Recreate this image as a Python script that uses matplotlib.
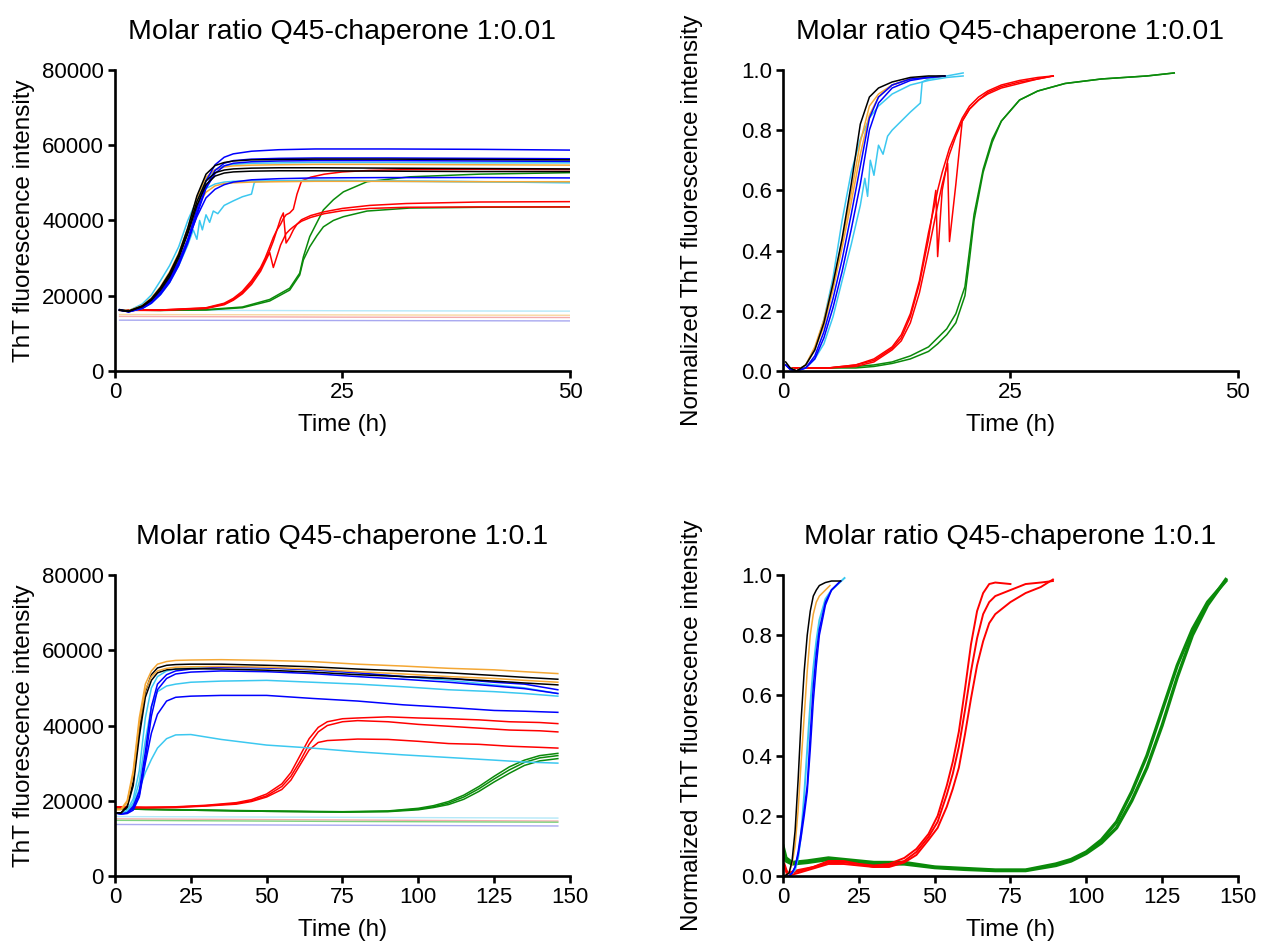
import matplotlib
matplotlib.use("Agg")
import matplotlib.pyplot as plt
from matplotlib.ticker import FormatStrFormatter

plt.rcParams['font.family'] = ['Liberation Sans', 'DejaVu Sans']

# ---------------- top-left: raw ThT, 1:0.01 ----------------
TL_T_FAST = [0.5, 1.5, 3, 4, 5, 6, 7, 8, 9, 10, 11, 12, 13, 15, 18, 22, 30, 40, 50]
TL_BLACK = [
    [16200, 15900, 17300, 19200, 22200, 26000, 31000, 38000, 46500, 52300, 54600, 55400, 55800, 56100, 56200, 56300, 56300, 56200, 56100],
    [16200, 15900, 17200, 19000, 21800, 25500, 30500, 37000, 45000, 50500, 52700, 53400, 53700, 53900, 54000, 54000, 53900, 53800, 53700],
    [16100, 15800, 17100, 18800, 21500, 25000, 30000, 36500, 44000, 49500, 51800, 52600, 52900, 53100, 53200, 53200, 53100, 53000, 53000],
]
TL_BLUE = [
    [16300, 15800, 16800, 18300, 20800, 24300, 29000, 35000, 43000, 50500, 54800, 56800, 57700, 58400, 58800, 59000, 59000, 58900, 58700],
    [16200, 15700, 16700, 18200, 20600, 24000, 28500, 34500, 42000, 49000, 53300, 55200, 55900, 56300, 56500, 56600, 56600, 56500, 56400],
    [16200, 15700, 16600, 18000, 20300, 23500, 28000, 34000, 41500, 48500, 52500, 54500, 55200, 55600, 55800, 55900, 55900, 55800, 55700],
    [16200, 15800, 16900, 18500, 21000, 24500, 29000, 34800, 41000, 46000, 48300, 49500, 50200, 50800, 51100, 51300, 51400, 51400, 51300],
]
TL_ORANGE = [
    [16300, 16000, 17400, 19400, 22400, 26300, 31300, 38000, 46000, 51500, 53500, 54200, 54500, 54700, 54800, 54900, 54900, 54800, 54700],
    [16200, 16000, 17300, 19200, 22000, 25800, 30500, 37000, 43500, 47500, 49200, 49800, 50000, 50200, 50300, 50400, 50400, 50300, 50300],
]
TL_CYAN = [
    [16300, 16000, 17300, 19200, 22000, 25800, 30800, 37500, 45500, 51000, 53500, 54500, 54900, 55200, 55300, 55400, 55400, 55300, 55300],
    [16300, 16000, 17800, 20200, 24000, 28000, 33000, 40000, 45500, 48500, 49700, 50200, 50400, 50500, 50500, 50500, 50400, 50300, 50200],
]
TL_T_CYAN_NOISY = [0.5, 1.5, 3, 4, 5, 6, 7, 8, 8.6, 9.0, 9.3, 9.6, 10.0, 10.4, 10.8, 11.3, 12, 13, 14, 15.0, 15.3, 15.5, 18, 22, 30, 40, 50]
TL_CYAN_NOISY = [16200, 15800, 16600, 18000, 20300, 23500, 28000, 33500, 37500, 35000, 40000, 37500, 41500, 39500, 42500, 41800,
                 44000, 45200, 46300, 47000, 50000, 50300, 50500, 50700, 50500, 50300, 50000]
TL_T_RED = [0.5, 5, 10, 12, 13, 14, 15, 16, 16.5, 17, 17.4, 17.8, 18.2, 18.5, 18.8, 19.2, 19.6, 20.0, 20.5, 21.5, 23, 25, 28, 32, 40, 50]
TL_RED = [
    [16200, 16200, 16800, 18000, 19300, 21200, 24000, 27500, 30000, 33000, 35500, 37500, 39000, 40500, 41500, 42000, 43000, 47000, 50500, 51500, 52300, 52900, 53300, 53500, 53600, 53500],
    [16200, 16200, 16700, 17800, 19000, 20800, 23500, 27000, 29500, 32000, 34500, 37500, 40500, 42000, 34000, 35500, 37500, 39000, 40200, 41300, 42300, 43200, 44000, 44500, 44900, 45000],
    [16100, 16100, 16600, 17600, 18800, 20500, 23000, 26500, 29000, 31500, 27500, 30500, 33500, 35000, 36500, 37500, 38300, 39000, 39800, 40800, 41800, 42600, 43200, 43500, 43600, 43600],
]
TL_T_GREEN = [0.5, 5, 10, 14, 17, 19.2, 20.3, 20.7, 21.4, 22.2, 22.9, 24, 25.1, 27.7, 32.4, 40, 50]
TL_GREEN = [
    [16200, 16100, 16300, 17000, 19000, 22000, 26000, 30300, 35700, 39500, 42800, 45500, 47600, 50300, 51600, 52300, 52700],
    [16200, 16100, 16200, 16800, 18600, 21500, 25500, 29500, 33000, 36000, 38300, 40000, 41000, 42500, 43300, 43500, 43600],
]
TL_T_BASE = [0.5, 25, 50]
TL_BASE = {
    'cyan': [16200, 16000, 15900],
    'orange': [15000, 14900, 14800],
    'pink': [14500, 14300, 14200],
    'lavender': [13500, 13400, 13300],
}

# ---------------- top-right: normalized, 1:0.01 ----------------
TR_T_FAST = [0.3, 0.8, 1.5, 2.5, 3.5, 4.5, 5.5, 6.5, 7.5, 8.5, 9.5, 10.5, 12, 14, 16, 17.8]
TR_BLACK = [[0.03, 0.01, 0.0, 0.02, 0.07, 0.16, 0.29, 0.44, 0.62, 0.82, 0.91, 0.94, 0.96, 0.975, 0.98, 0.98]]
TR_ORANGE = [
    [0.02, 0.01, 0.0, 0.02, 0.08, 0.17, 0.29, 0.43, 0.59, 0.76, 0.88, 0.92, 0.95, 0.97, 0.975, 0.98],
    [0.02, 0.01, 0.0, 0.02, 0.07, 0.15, 0.27, 0.41, 0.56, 0.72, 0.85, 0.91, 0.95, 0.97, 0.975, 0.98],
]
TR_BLUE = [
    [0.02, 0.005, 0.0, 0.01, 0.05, 0.13, 0.24, 0.37, 0.52, 0.68, 0.84, 0.91, 0.95, 0.97, 0.975, 0.98],
    [0.02, 0.005, 0.0, 0.01, 0.04, 0.11, 0.21, 0.33, 0.47, 0.62, 0.80, 0.89, 0.94, 0.965, 0.975, 0.98],
]
TR_T_CYAN = [0.3, 0.8, 1.5, 2.5, 3.5, 4.5, 5.5, 6.5, 7.5, 8.5, 9.5, 10.5, 12, 14, 16, 18, 19.8]
TR_CYAN = [[0.02, 0.01, 0.0, 0.02, 0.07, 0.17, 0.31, 0.50, 0.66, 0.77, 0.84, 0.88, 0.92, 0.95, 0.965, 0.975, 0.98]]
TR_T_CYAN_NOISY = [0.3, 0.8, 1.5, 2.5, 3.5, 4.5, 5.5, 6.5, 7.5, 8.5, 9.0, 9.3, 9.6, 10.0, 10.5, 11.0, 11.5, 12, 13, 14, 15.1, 15.3, 16, 17, 18, 19.8]
TR_CYAN_NOISY = [0.02, 0.01, 0.0, 0.01, 0.04, 0.09, 0.18, 0.30, 0.42, 0.55, 0.64, 0.58, 0.70, 0.65, 0.75, 0.72, 0.78, 0.80,
                 0.83, 0.86, 0.89, 0.96, 0.97, 0.975, 0.98, 0.99]
TR_T_RED = [1, 5, 8, 10, 11, 12, 13, 14, 15, 16, 16.8, 17.0, 17.5, 18.1, 18.3, 19.0, 19.7, 20.5, 21.5, 22.5, 24, 26, 28, 29.7]
TR_RED = [
    [0.01, 0.01, 0.02, 0.04, 0.06, 0.08, 0.12, 0.19, 0.30, 0.46, 0.57, 0.60, 0.66, 0.72, 0.74, 0.79, 0.84, 0.88, 0.91, 0.93, 0.95, 0.965, 0.975, 0.98],
    [0.01, 0.01, 0.02, 0.035, 0.055, 0.075, 0.11, 0.18, 0.29, 0.44, 0.60, 0.38, 0.60, 0.70, 0.72, 0.78, 0.83, 0.87, 0.90, 0.925, 0.945, 0.96, 0.97, 0.98],
    [0.01, 0.01, 0.015, 0.03, 0.05, 0.07, 0.10, 0.16, 0.26, 0.40, 0.52, 0.55, 0.62, 0.69, 0.43, 0.62, 0.83, 0.87, 0.90, 0.92, 0.94, 0.955, 0.97, 0.98],
]
TR_T_GREEN = [1, 5, 8, 10, 12, 14, 16, 17, 18, 19, 20, 20.5, 21, 22, 23, 24, 26, 28, 31, 35, 40, 43]
TR_GREEN = [
    [0.01, 0.01, 0.015, 0.02, 0.03, 0.05, 0.08, 0.11, 0.14, 0.19, 0.28, 0.40, 0.52, 0.67, 0.77, 0.83, 0.90, 0.93, 0.955, 0.97, 0.98, 0.99],
    [0.01, 0.01, 0.01, 0.015, 0.025, 0.04, 0.065, 0.09, 0.12, 0.16, 0.25, 0.37, 0.50, 0.66, 0.76, 0.83, 0.90, 0.93, 0.955, 0.97, 0.98, 0.99],
]

# ---------------- bottom-left: raw ThT, 1:0.1 ----------------
BL_T_FAST = [0.5, 2, 4, 6, 8, 10, 12, 14, 17, 20, 25, 35, 50, 65, 80, 95, 110, 125, 135, 146]
BL_ORANGE = [
    [17800, 17800, 20000, 28000, 42000, 51000, 54500, 56300, 57000, 57300, 57400, 57500, 57300, 57000, 56300, 55800, 55200, 54800, 54300, 53800],
    [17600, 17600, 19500, 27000, 40500, 49500, 53000, 54500, 55200, 55500, 55600, 55700, 55500, 55000, 54300, 53700, 53000, 52500, 52000, 51500],
]
BL_BLACK = [
    [16800, 16800, 18500, 25000, 39000, 49000, 53500, 55300, 56000, 56200, 56300, 56300, 56000, 55600, 55000, 54500, 54000, 53300, 52800, 52300],
    [16800, 16800, 18300, 24000, 37000, 47500, 52000, 54000, 54800, 55000, 55100, 55000, 54700, 54200, 53500, 53000, 52500, 51800, 51300, 50800],
]
BL_BLUE = [
    [16700, 16500, 16800, 18500, 22500, 33000, 45000, 51000, 53500, 54500, 55000, 55500, 55300, 54800, 54000, 53000, 52500, 51500, 51000, 49500],
    [16700, 16500, 16700, 18000, 21500, 31000, 42500, 49500, 52500, 53700, 54200, 54500, 54300, 53800, 53000, 52300, 51500, 50500, 49800, 48500],
    [16700, 16500, 16600, 17500, 21000, 30000, 38000, 43000, 46500, 47500, 47800, 48000, 48000, 47200, 46500, 45500, 44800, 44000, 43800, 43500],
]
BL_CYAN = [
    [16800, 16600, 17200, 19500, 25000, 36000, 45000, 49000, 50500, 51000, 51500, 51800, 52000, 51500, 51000, 50300, 49500, 49000, 48500, 47800],
    [16800, 16600, 17500, 20500, 28000, 42000, 50000, 53000, 54500, 55000, 55300, 55500, 55300, 54800, 54000, 53000, 52000, 50800, 50000, 48500],
    [16700, 16500, 17000, 19000, 23000, 27500, 31000, 34000, 36500, 37500, 37600, 36300, 34800, 34000, 33000, 32200, 31500, 30800, 30300, 30000],
]
BL_T_RED = [0.5, 10, 20, 30, 40, 45, 50, 55, 58, 61, 64, 67, 70, 75, 80, 90, 100, 110, 120, 130, 140, 146]
BL_RED = [
    [18300, 18200, 18400, 18800, 19500, 20300, 21800, 24500, 27500, 32000, 36500, 39500, 41000, 41800, 42000, 42300, 42000, 41800, 41500, 41000, 40800, 40500],
    [18400, 18300, 18300, 18700, 19300, 20000, 21300, 23800, 26500, 30500, 35000, 38300, 40000, 41000, 41300, 41000, 40300, 39800, 39300, 38800, 38600, 38300],
    [18200, 18100, 18200, 18600, 19100, 19800, 21000, 23000, 25500, 29500, 33500, 35500, 36000, 36200, 36400, 36300, 35800, 35200, 35000, 34500, 34200, 34000],
]
BL_T_GREEN = [0.5, 10, 25, 50, 75, 90, 100, 105, 110, 115, 120, 125, 130, 135, 140, 146]
BL_GREEN = [
    [18000, 17800, 17600, 17300, 17100, 17300, 18000, 18700, 19800, 21500, 23800, 26500, 29000, 30800, 32000, 32600],
    [17900, 17700, 17500, 17200, 17000, 17200, 17800, 18400, 19400, 21000, 23200, 25800, 28200, 30200, 31400, 32000],
    [17900, 17700, 17500, 17200, 17000, 17100, 17600, 18200, 19000, 20400, 22500, 25000, 27300, 29400, 30600, 31200],
]
BL_T_BASE = [0.5, 75, 146]
BL_BASE = {
    'cyan': [15800, 15600, 15400],
    'pink': [15200, 14900, 14600],
    'lightgreen': [14800, 14500, 14300],
    'lavender': [13700, 13500, 13300],
}

# ---------------- bottom-right: normalized, 1:0.1 ----------------
BR_T_FAST = [0.5, 2, 3, 4, 5, 6, 7, 8, 9, 10, 11, 12, 14, 16, 19]
BR_BLACK = [[0.0, 0.01, 0.05, 0.15, 0.32, 0.52, 0.68, 0.80, 0.88, 0.93, 0.95, 0.965, 0.975, 0.98, 0.98]]
BR_T_ORANGE = [0.5, 2, 3, 4, 5, 6, 7, 8, 9, 10, 11, 12, 14, 15.5]
BR_ORANGE = [[0.0, 0.01, 0.04, 0.10, 0.22, 0.38, 0.53, 0.68, 0.80, 0.87, 0.91, 0.93, 0.95, 0.965]]
BR_BLUE = [
    [0.0, 0.0, 0.01, 0.03, 0.08, 0.15, 0.22, 0.30, 0.47, 0.63, 0.74, 0.82, 0.91, 0.95, 0.98],
    [0.0, 0.0, 0.01, 0.03, 0.07, 0.13, 0.20, 0.28, 0.42, 0.58, 0.70, 0.80, 0.90, 0.95, 0.98],
]
BR_T_CYAN = [0.5, 2, 3, 4, 5, 6, 7, 8, 9, 10, 11, 12, 14, 16, 20.3]
BR_CYAN = [[0.0, 0.0, 0.01, 0.02, 0.06, 0.14, 0.27, 0.42, 0.57, 0.69, 0.78, 0.85, 0.92, 0.95, 0.99]]
BR_T_RED_SHORT = [0.5, 1.5, 5, 10, 15, 20, 25, 30, 35, 40, 44, 48, 51, 54, 56, 58, 60, 62, 64, 66, 68, 70, 75]
BR_RED_SHORT = [[0.04, 0.01, 0.02, 0.03, 0.05, 0.05, 0.04, 0.035, 0.04, 0.06, 0.09, 0.14, 0.20, 0.30, 0.38, 0.48, 0.62, 0.77, 0.88, 0.94, 0.97, 0.975, 0.97]]
BR_T_RED = [0.5, 1.5, 5, 10, 15, 20, 25, 30, 35, 40, 44, 48, 51, 54, 56, 58, 60, 62, 64, 66, 68, 70, 75, 80, 85, 89]
BR_RED = [
    [0.03, 0.01, 0.015, 0.03, 0.045, 0.045, 0.04, 0.03, 0.035, 0.05, 0.08, 0.13, 0.18, 0.27, 0.34, 0.43, 0.55, 0.68, 0.79, 0.87, 0.91, 0.93, 0.95, 0.97, 0.975, 0.98],
    [0.03, 0.0, 0.01, 0.025, 0.04, 0.04, 0.035, 0.03, 0.03, 0.045, 0.07, 0.12, 0.16, 0.23, 0.29, 0.36, 0.47, 0.59, 0.70, 0.78, 0.84, 0.87, 0.91, 0.94, 0.96, 0.985],
]
BR_T_GREEN = [0, 1, 3, 8, 15, 20, 30, 40, 50, 60, 70, 80, 90, 95, 100, 105, 110, 115, 120, 125, 130, 135, 140, 146]
BR_GREEN = [
    [0.10, 0.06, 0.045, 0.05, 0.06, 0.055, 0.045, 0.045, 0.03, 0.025, 0.02, 0.02, 0.04, 0.055, 0.08, 0.12, 0.18, 0.28, 0.40, 0.55, 0.70, 0.82, 0.91, 0.98],
    [0.08, 0.05, 0.04, 0.045, 0.055, 0.05, 0.04, 0.04, 0.028, 0.022, 0.018, 0.018, 0.035, 0.05, 0.075, 0.11, 0.16, 0.25, 0.36, 0.50, 0.66, 0.80, 0.90, 0.985],
]

COLORS = {
    'black': '#000000', 'blue': '#0000ff', 'orange': '#f4a734', 'cyan': '#3cc8f0',
    'red': '#ff0000', 'green': '#0a8a0a',
}
FAINT = {'cyan': '#b4e8f8', 'orange': '#f8d7a0', 'pink': '#f4aaaa',
         'lavender': '#a8a8f0', 'lightgreen': '#7fd27f'}

TITLE_TOP = 'Molar ratio Q45-chaperone 1:0.01'
TITLE_BOTTOM = 'Molar ratio Q45-chaperone 1:0.1'
YLABEL_RAW = 'ThT fluorescence intensity'
YLABEL_NORM = 'Normalized ThT fluorescence intensity'


def draw(ax, t, curves, color, lw=1.1):
    for y in curves:
        ax.plot(t[:len(y)], y, color=color, lw=lw, solid_joinstyle='round')


def style(ax, xmax, xticks, ymax, yticks, title, ylabel, fmt=None):
    ax.set_xlim(0, xmax)
    ax.set_ylim(0, ymax)
    ax.set_xticks(xticks)
    ax.set_yticks(yticks)
    if fmt:
        ax.yaxis.set_major_formatter(FormatStrFormatter(fmt))
    for side in ('top', 'right'):
        ax.spines[side].set_visible(False)
    for side in ('left', 'bottom'):
        ax.spines[side].set_linewidth(1.9)
    ax.tick_params(direction='out', length=5, width=1.9, labelsize=16, pad=3)
    ax.set_title(title, fontsize=20.5, pad=22)
    ax.set_xlabel('Time (h)', fontsize=17.5)
    ax.set_ylabel(ylabel, fontsize=17.5)
    ax.xaxis.set_label_coords(0.5, -0.142)
    ax.yaxis.set_label_coords(-0.175, 0.5)


fig = plt.figure(figsize=(12.61, 9.49), dpi=100)
W, H = 0.3608, 0.3172
ax_tl = fig.add_axes([0.0912, 0.6091, W, H])
ax_tr = fig.add_axes([0.6209, 0.6091, W, H])
ax_bl = fig.add_axes([0.0912, 0.0769, W, H])
ax_br = fig.add_axes([0.6209, 0.0769, W, H])

# top-left
for key, vals in TL_BASE.items():
    ax_tl.plot(TL_T_BASE, vals, color=FAINT[key], lw=1.0)
draw(ax_tl, TL_T_GREEN, TL_GREEN, COLORS['green'])
draw(ax_tl, TL_T_RED, TL_RED, COLORS['red'])
draw(ax_tl, TL_T_FAST, TL_CYAN, COLORS['cyan'])
draw(ax_tl, TL_T_CYAN_NOISY, [TL_CYAN_NOISY], COLORS['cyan'])
draw(ax_tl, TL_T_FAST, TL_ORANGE, COLORS['orange'])
draw(ax_tl, TL_T_FAST, TL_BLUE, COLORS['blue'])
draw(ax_tl, TL_T_FAST, TL_BLACK, COLORS['black'])
style(ax_tl, 50, [0, 25, 50], 80000, [0, 20000, 40000, 60000, 80000], TITLE_TOP, YLABEL_RAW)

# top-right
draw(ax_tr, TR_T_GREEN, TR_GREEN, COLORS['green'])
draw(ax_tr, TR_T_RED, TR_RED, COLORS['red'])
draw(ax_tr, TR_T_CYAN, TR_CYAN, COLORS['cyan'])
draw(ax_tr, TR_T_CYAN_NOISY, [TR_CYAN_NOISY], COLORS['cyan'])
draw(ax_tr, TR_T_FAST, TR_ORANGE, COLORS['orange'])
draw(ax_tr, TR_T_FAST, TR_BLUE, COLORS['blue'])
draw(ax_tr, TR_T_FAST, TR_BLACK, COLORS['black'])
style(ax_tr, 50, [0, 25, 50], 1.0, [0, 0.2, 0.4, 0.6, 0.8, 1.0], TITLE_TOP, YLABEL_NORM, '%.1f')

# bottom-left
for key, vals in BL_BASE.items():
    ax_bl.plot(BL_T_BASE, vals, color=FAINT[key], lw=1.0)
draw(ax_bl, BL_T_GREEN, BL_GREEN, COLORS['green'])
draw(ax_bl, BL_T_RED, BL_RED, COLORS['red'])
draw(ax_bl, BL_T_FAST, BL_CYAN, COLORS['cyan'])
draw(ax_bl, BL_T_FAST, BL_BLUE, COLORS['blue'])
draw(ax_bl, BL_T_FAST, BL_BLACK, COLORS['black'])
draw(ax_bl, BL_T_FAST, BL_ORANGE, COLORS['orange'])
style(ax_bl, 150, [0, 25, 50, 75, 100, 125, 150], 80000, [0, 20000, 40000, 60000, 80000], TITLE_BOTTOM, YLABEL_RAW)

# bottom-right
draw(ax_br, BR_T_GREEN, BR_GREEN, COLORS['green'], lw=2.4)
draw(ax_br, BR_T_RED_SHORT, BR_RED_SHORT, COLORS['red'], lw=1.4)
draw(ax_br, BR_T_RED, BR_RED, COLORS['red'], lw=1.4)
draw(ax_br, BR_T_CYAN, BR_CYAN, COLORS['cyan'], lw=1.4)
draw(ax_br, BR_T_FAST, BR_BLUE, COLORS['blue'])
draw(ax_br, BR_T_ORANGE, BR_ORANGE, COLORS['orange'])
draw(ax_br, BR_T_FAST, BR_BLACK, COLORS['black'])
style(ax_br, 150, [0, 25, 50, 75, 100, 125, 150], 1.0, [0, 0.2, 0.4, 0.6, 0.8, 1.0], TITLE_BOTTOM, YLABEL_NORM, '%.1f')

fig.savefig('out.png', dpi=100)
